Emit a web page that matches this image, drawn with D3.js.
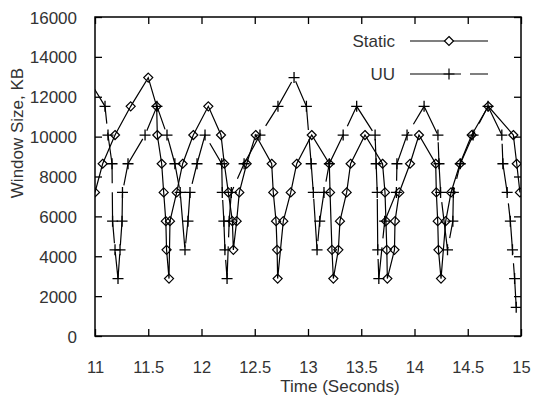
<!DOCTYPE html>
<html>
<head>
<meta charset="utf-8">
<script src="https://cdn.jsdelivr.net/npm/d3@7"></script>
<style>
  html, body { margin: 0; padding: 0; background: #fff; overflow: hidden; }
  #chart { width: 100vw; height: 100vh; }
  svg { display: block; }
  text { font-family: "Liberation Sans", Arial, sans-serif; }
</style>
</head>
<body>
<div id="chart"></div>
<script>
// window size samples (time in seconds, size in KB)
const staticTime = [
  11.000, 11.072, 11.188, 11.335, 11.500, 11.579, 11.585, 11.626, 11.645, 11.665,
  11.672, 11.695, 11.704, 11.767, 11.823, 11.923, 12.064, 12.183, 12.214, 12.252,
  12.290, 12.299, 12.330, 12.355, 12.424, 12.509, 12.659, 12.674, 12.700, 12.710,
  12.715, 12.768, 12.838, 12.894, 13.035, 13.200, 13.207, 13.225, 13.238, 13.285,
  13.300, 13.363, 13.400, 13.535, 13.700, 13.723, 13.732, 13.740, 13.745, 13.812,
  13.817, 13.857, 13.958, 14.042, 14.199, 14.205, 14.218, 14.225, 14.249, 14.293,
  14.343, 14.427, 14.537, 14.693, 14.928, 14.960, 14.990
];
const staticSize = [
  7200, 8640, 10080, 11520, 12960, 11520, 10080, 8640, 7200, 5760,
  4320, 2880, 5760, 7200, 8640, 10080, 11520, 10080, 8640, 7200,
  5760, 4320, 5760, 7200, 8640, 10080, 8640, 7200, 5760, 4320,
  2880, 5760, 7200, 8640, 10080, 8640, 7200, 4320, 2880, 4320,
  5760, 7200, 8640, 10080, 8640, 7200, 5760, 4320, 2880, 4320,
  5760, 7200, 8640, 10080, 8640, 7200, 5760, 4320, 2880, 5760,
  7200, 8640, 10080, 11520, 10080, 8640, 7200
];

const uuTime = [
  10.930, 11.094, 11.122, 11.160, 11.165, 11.188, 11.216, 11.235, 11.254, 11.258,
  11.310, 11.470, 11.582, 11.676, 11.750, 11.800, 11.845, 11.873, 11.892, 11.958,
  12.033, 12.190, 12.195, 12.210, 12.220, 12.240, 12.260, 12.280, 12.400, 12.549,
  12.718, 12.869, 12.985, 13.030, 13.050, 13.085, 13.110, 13.150, 13.200, 13.330,
  13.457, 13.630, 13.640, 13.650, 13.655, 13.665, 13.720, 13.830, 13.835, 13.930,
  14.090, 14.220, 14.230, 14.245, 14.310, 14.360, 14.365, 14.430, 14.550, 14.690,
  14.820, 14.830, 14.870, 14.900, 14.920, 14.940, 14.955
];
const uuSize = [
  12960, 11520, 10080, 8640, 5760, 4320, 2880, 4320, 5760, 7200,
  8640, 10080, 11520, 10080, 8640, 7200, 4320, 5760, 7200, 8640,
  10080, 8640, 7200, 5760, 4320, 2880, 5760, 7200, 8640, 10080,
  11520, 12960, 11520, 8640, 7200, 4320, 5760, 7200, 8640, 10080,
  11520, 10080, 8640, 7200, 4320, 2880, 5760, 7200, 8640, 10080,
  11520, 10080, 8640, 7200, 4320, 5760, 7200, 8640, 10080, 11520,
  10080, 8640, 7200, 5760, 4320, 2880, 1440
];

const xTicks = [11, 11.5, 12, 12.5, 13, 13.5, 14, 14.5, 15];
const yTicks = [0, 2000, 4000, 6000, 8000, 10000, 12000, 14000, 16000];
const seriesNames = ['Static', 'UU'];

const width = 533, height = 396;
const margin = { top: 17, right: 12, bottom: 60, left: 95 };
const innerWidth = width - margin.left - margin.right;
const innerHeight = height - margin.top - margin.bottom;

const svg = d3.select('#chart')
  .append('svg')
  .style('width', '100%')
  .style('height', '100%')
  .attr('viewBox', `0 0 ${width} ${height}`)
  .attr('preserveAspectRatio', 'xMidYMid meet');

const g = svg.append('g').attr('transform', `translate(${margin.left},${margin.top})`);

const x = d3.scaleLinear().domain([11, 15]).range([0, innerWidth]);
const y = d3.scaleLinear().domain([0, 16000]).range([innerHeight, 0]);

svg.append('defs').append('clipPath').attr('id', 'plot-clip')
  .append('rect').attr('width', innerWidth).attr('height', innerHeight);

const fmtX = d3.format('~g');

function styleAxis(sel, showLabels, size) {
  sel.select('.domain').remove();
  sel.selectAll('.tick line').attr('stroke', '#000').attr('stroke-width', 1.3);
  sel.selectAll('.tick text')
    .attr('fill', '#333')
    .attr('font-size', size)
    .attr('dy', null);
  if (!showLabels) sel.selectAll('.tick text').remove();
}

// bottom axis: label baseline 37px under the frame
g.append('g')
  .attr('transform', `translate(0,${innerHeight})`)
  .call(d3.axisBottom(x).tickValues(xTicks).tickFormat(fmtX).tickSize(-7).tickPadding(37))
  .call(a => styleAxis(a, true, '16.5px'));

g.append('g')
  .call(d3.axisTop(x).tickValues(xTicks).tickSize(-7))
  .call(a => styleAxis(a, false));

g.append('g')
  .call(d3.axisLeft(y).tickValues(yTicks).tickFormat(d3.format('d')).tickSize(-7).tickPadding(18))
  .call(a => styleAxis(a, true, '17px'))
  .call(a => a.selectAll('.tick text').attr('y', 6));

g.append('g')
  .attr('transform', `translate(${innerWidth},0)`)
  .call(d3.axisRight(y).tickValues(yTicks).tickSize(-7))
  .call(a => styleAxis(a, false));

// axis titles
svg.append('text')
  .attr('x', 340)
  .attr('y', 392)
  .attr('text-anchor', 'middle')
  .attr('font-size', '17px')
  .attr('fill', '#333')
  .text('Time (Seconds)');

svg.append('text')
  .attr('transform', 'translate(23,133) rotate(-90)')
  .attr('text-anchor', 'middle')
  .attr('font-size', '17px')
  .attr('fill', '#333')
  .text('Window Size, KB');

const staticData = staticTime.map((t, i) => ({ t, v: staticSize[i] }));
const uuData = uuTime.map((t, i) => ({ t, v: uuSize[i] }));

const line = d3.line().x(d => x(d.t)).y(d => y(d.v));

const diamond = d3.symbol().type(d3.symbolDiamond2).size(52);
const plusPath = 'M-5.5,0H5.5M0,-5.5V5.5';

const plot = g.append('g').attr('clip-path', 'url(#plot-clip)');

plot.append('path')
  .datum(staticData)
  .attr('d', line)
  .attr('fill', 'none')
  .attr('stroke', '#000')
  .attr('stroke-width', 1.2);

plot.append('path')
  .datum(uuData)
  .attr('d', line)
  .attr('fill', 'none')
  .attr('stroke', '#000')
  .attr('stroke-width', 1.2)
  .attr('stroke-dasharray', '51,9');

const inRange = d => d.t >= 11 && d.t <= 15;

plot.selectAll('.static-pt')
  .data(staticData.filter(inRange))
  .enter()
  .append('path')
  .attr('class', 'static-pt')
  .attr('transform', d => `translate(${x(d.t)},${y(d.v)})`)
  .attr('d', diamond())
  .attr('fill', 'none')
  .attr('stroke', '#000')
  .attr('stroke-width', 1.2);

plot.selectAll('.uu-pt')
  .data(uuData.filter(inRange))
  .enter()
  .append('path')
  .attr('class', 'uu-pt')
  .attr('transform', d => `translate(${x(d.t)},${y(d.v)})`)
  .attr('d', plusPath)
  .attr('fill', 'none')
  .attr('stroke', '#000')
  .attr('stroke-width', 1.3);

// frame
g.append('rect')
  .attr('width', innerWidth)
  .attr('height', innerHeight)
  .attr('fill', 'none')
  .attr('stroke', '#000')
  .attr('stroke-width', 1.5);

// legend
const legend = svg.append('g');
seriesNames.forEach((name, i) => {
  const ly = 41 + i * 33;
  legend.append('text')
    .attr('x', 395)
    .attr('y', ly + 6)
    .attr('text-anchor', 'end')
    .attr('font-size', '17px')
    .attr('fill', '#333')
    .text(name);
  legend.append('line')
    .attr('x1', 410).attr('x2', 488)
    .attr('y1', ly).attr('y2', ly)
    .attr('stroke', '#000')
    .attr('stroke-width', 1.2)
    .attr('stroke-dasharray', i === 1 ? '51,9' : null);
  legend.append('path')
    .attr('transform', `translate(449,${ly})`)
    .attr('d', i === 0 ? diamond() : plusPath)
    .attr('fill', i === 0 ? '#fff' : 'none')
    .attr('stroke', '#000')
    .attr('stroke-width', 1.2);
});
</script>
</body>
</html>
